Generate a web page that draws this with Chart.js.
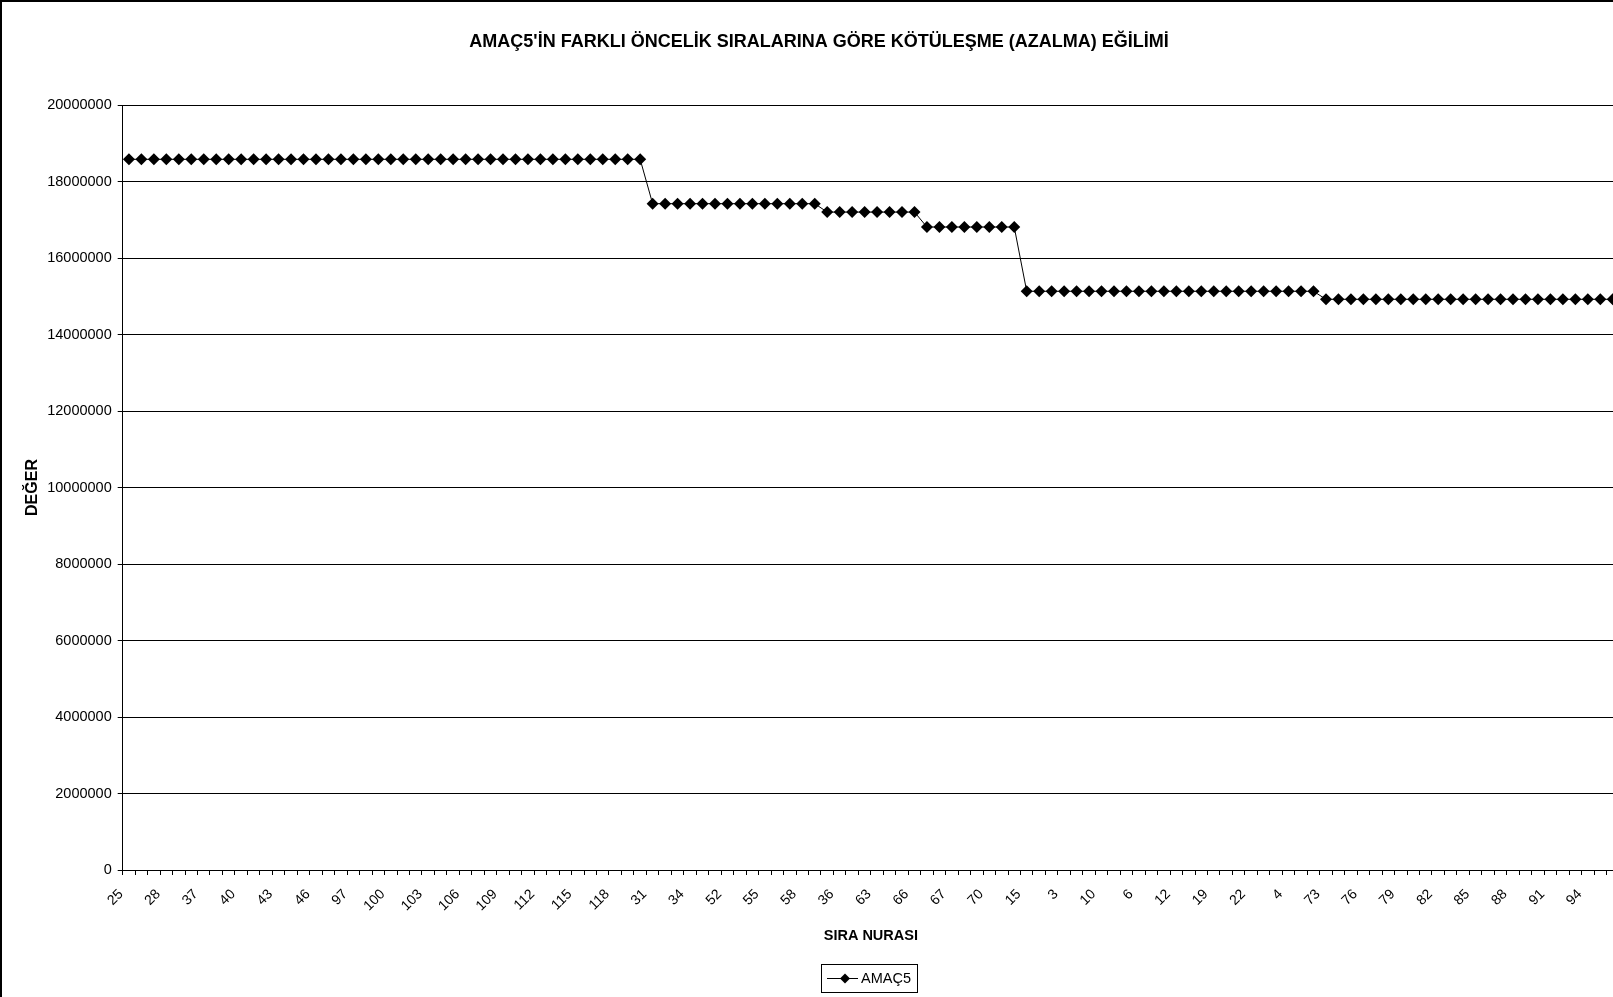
<!DOCTYPE html>
<html lang="tr">
<head>
<meta charset="utf-8">
<title>AMAÇ5 Kötüleşme Eğilimi</title>
<script src="https://cdn.jsdelivr.net/npm/chart.js@4.4.1/dist/chart.umd.min.js"></script>
<style>
  html, body { margin: 0; padding: 0; background: #fff; overflow: hidden; }
  #frame { position: relative; width: 1613px; height: 997px; overflow: hidden; }
  canvas { display: block; }
</style>
</head>
<body>
<div id="frame"><canvas id="c" width="1640" height="1010"></canvas></div>
<script>
// Priority order numbers (x categories), in plotted order
const siraNo = [
  25, 26, 27, 28, 29, 30, 37, 38, 39, 40, 41, 42, 43, 44, 45, 46, 47, 48,
  97, 98, 99, 100, 101, 102, 103, 104, 105, 106, 107, 108, 109, 110, 111, 112,
  113, 114, 115, 116, 117, 118, 119, 120,
  31, 32, 33, 34, 50, 51, 52, 53, 54, 55, 56, 57, 58, 49,
  35, 36, 61, 62, 63, 64, 65, 66,
  59, 60, 67, 68, 69, 70, 71, 72,
  15, 16, 1, 3, 7, 8, 10, 11, 5, 6, 9, 2, 12, 13, 14, 19, 20, 21, 22, 23, 24, 4, 17, 18,
  73, 74, 75, 76, 77, 78, 79, 80, 81, 82, 83, 84, 85, 86, 87, 88, 89, 90,
  91, 92, 93, 94, 95, 96
];

// AMAÇ5 value for each priority order
const amac5 = [
  18580000, 18580000, 18580000, 18580000, 18580000, 18580000, 18580000, 18580000, 18580000,
  18580000, 18580000, 18580000, 18580000, 18580000, 18580000, 18580000, 18580000, 18580000,
  18580000, 18580000, 18580000, 18580000, 18580000, 18580000, 18580000, 18580000, 18580000,
  18580000, 18580000, 18580000, 18580000, 18580000, 18580000, 18580000, 18580000, 18580000,
  18580000, 18580000, 18580000, 18580000, 18580000, 18580000,
  17420000, 17420000, 17420000, 17420000, 17420000, 17420000, 17420000,
  17420000, 17420000, 17420000, 17420000, 17420000, 17420000, 17420000,
  17200000, 17200000, 17200000, 17200000, 17200000, 17200000, 17200000, 17200000,
  16810000, 16810000, 16810000, 16810000, 16810000, 16810000, 16810000, 16810000,
  15130000, 15130000, 15130000, 15130000, 15130000, 15130000, 15130000, 15130000,
  15130000, 15130000, 15130000, 15130000, 15130000, 15130000, 15130000, 15130000,
  15130000, 15130000, 15130000, 15130000, 15130000, 15130000, 15130000, 15130000,
  14920000, 14920000, 14920000, 14920000, 14920000, 14920000, 14920000, 14920000,
  14920000, 14920000, 14920000, 14920000, 14920000, 14920000, 14920000, 14920000,
  14920000, 14920000, 14920000, 14920000, 14920000, 14920000, 14920000, 14920000
];

// Value axis ticks
const yTicks = [0, 2000000, 4000000, 6000000, 8000000, 10000000,
                12000000, 14000000, 16000000, 18000000, 20000000];

const chartTitle = "AMAÇ5'İN FARKLI ÖNCELİK SIRALARINA GÖRE KÖTÜLEŞME (AZALMA) EĞİLİMİ";
const seriesName = 'AMAÇ5';
const xTitle = 'SIRA NURASI';
const yTitle = 'DEĞER';

const FONT = "'Liberation Sans', Arial, Helvetica, sans-serif";

// White background plus the outer chart frame
const framePlugin = {
  id: 'frame',
  beforeDraw(chart) {
    const ctx = chart.ctx;
    ctx.save();
    ctx.fillStyle = '#fff';
    ctx.fillRect(0, 0, chart.width, chart.height);
    ctx.strokeStyle = '#000';
    ctx.lineWidth = 2;
    ctx.strokeRect(1, 1, chart.width - 2, chart.height - 2);
    ctx.restore();
  }
};

// Chart heading
const headingPlugin = {
  id: 'heading',
  afterDraw(chart) {
    const ctx = chart.ctx;
    ctx.save();
    ctx.font = 'bold 18px ' + FONT;
    ctx.fillStyle = '#000';
    ctx.textAlign = 'center';
    ctx.textBaseline = 'middle';
    ctx.fillText(chartTitle, 819, 42);
    ctx.restore();
  }
};

// Boxed legend below the axis title
const legendBoxPlugin = {
  id: 'legendBox',
  afterDraw(chart) {
    const ctx = chart.ctx;
    const ds = chart.data.datasets[0];
    ctx.save();
    ctx.strokeStyle = '#000';
    ctx.lineWidth = 1;
    ctx.strokeRect(821.5, 964.5, 96, 28);
    const cy = 978.5;
    ctx.beginPath();
    ctx.moveTo(827, cy);
    ctx.lineTo(858, cy);
    ctx.strokeStyle = ds.borderColor;
    ctx.stroke();
    ctx.beginPath();
    ctx.moveTo(845, cy - 5);
    ctx.lineTo(850, cy);
    ctx.lineTo(845, cy + 5);
    ctx.lineTo(840, cy);
    ctx.closePath();
    ctx.fillStyle = ds.pointBackgroundColor;
    ctx.fill();
    ctx.font = '14.5px ' + FONT;
    ctx.fillStyle = '#000';
    ctx.textAlign = 'left';
    ctx.textBaseline = 'middle';
    ctx.fillText(ds.label, 861, cy);
    ctx.restore();
  }
};

new Chart(document.getElementById('c'), {
  type: 'line',
  data: {
    labels: siraNo.map(String),
    datasets: [{
      label: seriesName,
      data: amac5,
      borderColor: '#000',
      borderWidth: 1,
      tension: 0,
      fill: false,
      pointStyle: 'rectRot',
      pointRadius: 6,
      pointBorderWidth: 0,
      pointBackgroundColor: '#000',
      pointBorderColor: '#000'
    }]
  },
  options: {
    responsive: false,
    animation: false,
    devicePixelRatio: 1,
    layout: { padding: { top: 105, left: 22.6, right: 21, bottom: 65.6 } },
    plugins: {
      legend: { display: false },
      title: { display: false },
      tooltip: { enabled: false }
    },
    scales: {
      x: {
        type: 'category',
        offset: true,
        grid: {
          offset: true,
          drawOnChartArea: false,
          drawTicks: true,
          tickLength: 5,
          color: '#000',
          lineWidth: 1
        },
        border: { display: true, color: '#000', width: 1 },
        ticks: {
          autoSkip: false,
          minRotation: 45,
          maxRotation: 45,
          padding: 11,
          labelOffset: -8,
          color: '#000',
          font: { family: FONT, size: 14 },
          callback: function (value, index) {
            return index % 3 === 0 ? this.getLabelForValue(value) : '';
          }
        },
        title: {
          display: true,
          text: xTitle,
          color: '#000',
          padding: 0,
          font: { family: FONT, size: 14.5, weight: 'bold' }
        },
        afterFit(scale) { scale.height = 74.4; }
      },
      y: {
        min: yTicks[0],
        max: yTicks[yTicks.length - 1],
        afterBuildTicks(scale) { scale.ticks = yTicks.map(v => ({ value: v })); },
        grid: {
          color: '#000',
          lineWidth: 1,
          drawTicks: true,
          tickLength: 5
        },
        border: { display: true, color: '#000', width: 1 },
        ticks: {
          padding: 6,
          color: '#000',
          font: { family: FONT, size: 14.5 },
          callback: (v) => String(v)
        },
        title: {
          display: true,
          text: yTitle,
          color: '#000',
          padding: 0,
          font: { family: FONT, size: 16, weight: 'bold' }
        },
        afterFit(scale) { scale.width = 100.1; }
      }
    }
  },
  plugins: [framePlugin, headingPlugin, legendBoxPlugin]
});
</script>
</body>
</html>
